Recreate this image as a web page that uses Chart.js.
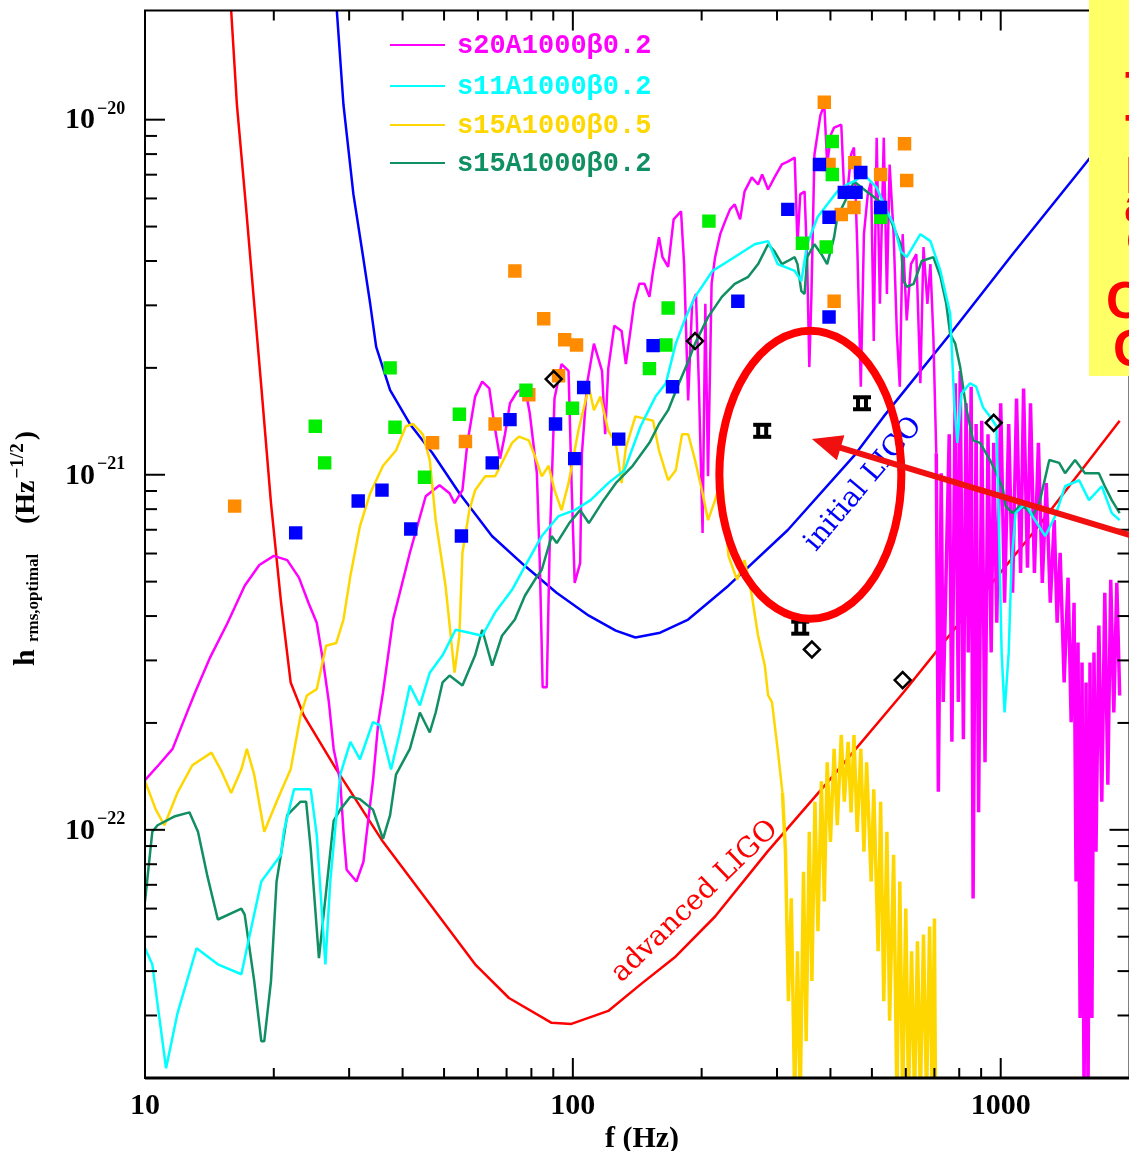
<!DOCTYPE html>
<html>
<head>
<meta charset="utf-8">
<script src="https://cdn.jsdelivr.net/npm/chart.js@4.4.1/dist/chart.umd.min.js"></script>
<style>
    html, body { margin: 0; padding: 0; background: #fff; overflow: hidden; }
    #wrap { position: relative; width: 1140px; height: 1151px; }
</style>
</head>
<body>
<div id="wrap"><canvas id="chart" width="1140" height="1151"></canvas></div>
<script>
// ---- data (f in Hz, h in Hz^-1/2) ----
const seriesLabels = ['s20A1000β0.2', 's11A1000β0.2', 's15A1000β0.5', 's15A1000β0.2'];
const curveLabels = ['initial LIGO', 'advanced LIGO'];

const xMajorTicks = [10, 100, 1000];
const xTickLabels = ['10', '100', '1000'];
const xMinorTicks = [20, 30, 40, 50, 60, 70, 80, 90, 200, 300, 400, 500, 600, 700, 800, 900];
const yMajorTicks = [1e-22, 1e-21, 1e-20];
const yTickExponents = ['−22', '−21', '−20'];
const yMinorTicks = [3e-23, 4e-23, 5e-23, 6e-23, 7e-23, 8e-23, 9e-23,
    2e-22, 3e-22, 4e-22, 5e-22, 6e-22, 7e-22, 8e-22, 9e-22,
    2e-21, 3e-21, 4e-21, 5e-21, 6e-21, 7e-21, 8e-21, 9e-21];

// advanced LIGO noise curve
const advFreq = [15.7, 15.9, 16.4, 17.2, 18.0, 18.7, 19.7, 20.8, 21.9, 23.5,
    28.0, 36.0, 45.3, 59.1, 70.9, 89.2, 99.2, 121, 144, 174,
    215, 285, 408, 593, 848, 1205, 1897];
const advH = [2.72e-20, 2.03e-20, 1.10e-20, 5.77e-21, 3.03e-21, 1.77e-21, 8.32e-22, 4.36e-22, 2.60e-22, 2.10e-22,
    1.48e-22, 9.25e-23, 6.41e-23, 4.18e-23, 3.36e-23, 2.86e-23, 2.84e-23, 3.09e-23, 3.67e-23, 4.40e-23,
    5.70e-23, 8.68e-23, 1.43e-22, 2.44e-22, 4.17e-22, 6.99e-22, 1.42e-21];

// initial LIGO noise curve
const iniFreq = [27.6, 29.1, 30.7, 32.4, 33.6, 34.7, 37.4, 41.6, 47.0, 54.3,
    64.7, 77.2, 91.6, 109, 126, 140, 160, 186, 231, 318,
    454, 533, 762, 1066, 1525, 1897];
const iniH = [2.72e-20, 1.10e-20, 6.16e-21, 4.05e-21, 3.03e-21, 2.29e-21, 1.73e-21, 1.39e-21, 1.15e-21, 8.87e-22,
    6.72e-22, 5.54e-22, 4.65e-22, 4.01e-22, 3.64e-22, 3.48e-22, 3.59e-22, 3.91e-22, 4.87e-22, 6.99e-22,
    1.13e-21, 1.46e-21, 2.49e-21, 4.18e-21, 7.15e-21, 9.94e-21];

// s20A1000b0.2 (magenta)
const s20Freq = [10.0, 10.8, 11.6, 12.4, 13.1, 14.2, 15.6, 17.1, 18.5, 20.0,
    21.5, 22.9, 24.1, 25.2, 26.1, 26.9, 27.6, 28.6, 29.1, 29.6,
    31.2, 32.4, 33.2, 34.1, 35.1, 36.0, 38.0, 41.6, 45.3, 48.8,
    51.5, 52.9, 55.2, 56.7, 59.1, 61.4, 63.8, 65.5, 67.6, 69.4,
    71.3, 74.0, 77.3, 79.3, 82.4, 83.7, 85.0, 86.9, 88.3, 90.6,
    94.1, 97.7, 99.3, 101, 104, 105, 108, 112, 117, 119,
    121, 125, 130, 133, 136, 139, 143, 147, 151, 154,
    159, 162, 167, 172, 179, 182, 186, 190, 194, 197,
    201, 204, 207, 211, 215, 221, 227, 233, 239, 246,
    252, 262, 271, 277, 286, 296, 308, 318, 330, 335,
    340, 348, 353, 357, 361, 367, 379, 387, 393, 401,
    408, 424, 431, 437, 447, 454, 462, 471, 479, 489,
    498, 505, 513, 522, 533, 542, 550, 562, 572, 581,
    590, 603, 617, 635, 649, 660, 674, 685, 696, 707,
    715, 726, 734, 758, 769, 783, 796, 804, 818, 830,
    840, 853, 862, 876, 888, 903, 919, 934, 950, 963,
    979, 1000, 1021, 1044, 1066, 1089, 1113, 1131, 1155, 1174,
    1199, 1225, 1251, 1278, 1306, 1334, 1355, 1377, 1407, 1437,
    1461, 1484, 1500, 1516, 1533, 1549, 1566, 1583, 1600, 1617,
    1634, 1652, 1670, 1696, 1723, 1751, 1780, 1808, 1838, 1868,
    1897];
const s20H = [1.38e-22, 1.53e-22, 1.69e-22, 2.07e-22, 2.44e-22, 3.06e-22, 3.83e-22, 4.87e-22, 5.57e-22, 5.91e-22,
    5.75e-22, 5.13e-22, 4.36e-22, 3.83e-22, 2.96e-22, 2.29e-22, 1.69e-22, 1.37e-22, 9.87e-23, 7.72e-23,
    7.15e-23, 8.13e-23, 1.05e-22, 1.37e-22, 2.01e-22, 2.44e-22, 3.91e-22, 6.03e-22, 8.70e-22, 9.34e-22,
    8.87e-22, 8.32e-22, 9.05e-22, 1.23e-21, 1.66e-21, 1.83e-21, 1.75e-21, 1.39e-21, 1.11e-21, 1.30e-21,
    1.59e-21, 1.71e-21, 1.77e-21, 1.49e-21, 1.01e-21, 5.64e-22, 2.52e-22, 2.52e-22, 6.42e-22, 1.64e-21,
    2.05e-21, 1.96e-21, 9.47e-22, 4.96e-22, 5.64e-22, 1.15e-21, 1.81e-21, 2.34e-21, 1.96e-21, 1.30e-21,
    1.99e-21, 2.63e-21, 2.54e-21, 2.05e-21, 2.49e-21, 3.03e-21, 3.45e-21, 3.45e-21, 3.17e-21, 3.75e-21,
    4.67e-21, 4.10e-21, 3.85e-21, 5.24e-21, 5.52e-21, 3.92e-21, 1.62e-21, 3.03e-21, 3.23e-21, 1.81e-21,
    6.86e-22, 3.03e-21, 9.90e-22, 3.45e-21, 4.10e-21, 4.76e-21, 5.18e-21, 5.59e-21, 5.77e-21, 5.24e-21,
    6.28e-21, 6.88e-21, 6.57e-21, 7.01e-21, 6.36e-21, 6.88e-21, 7.48e-21, 7.62e-21, 7.82e-21, 4.46e-21,
    6.16e-21, 6.28e-21, 3.92e-21, 2.01e-21, 3.17e-21, 7.98e-21, 1.03e-20, 1.10e-20, 7.48e-21, 9.08e-21,
    9.50e-21, 9.68e-21, 6.16e-21, 6.04e-21, 7.98e-21, 8.35e-21, 4.46e-21, 1.77e-21, 4.76e-21, 6.16e-21,
    6.70e-21, 2.38e-21, 8.90e-21, 3.03e-21, 8.90e-21, 3.23e-21, 7.48e-21, 4.76e-21, 2.49e-21, 1.77e-21,
    4.76e-21, 2.72e-21, 3.92e-21, 4.18e-21, 1.81e-21, 4.38e-21, 3.03e-21, 3.92e-21, 2.45e-21, 1.15e-21,
    1.28e-22, 1.01e-21, 2.29e-22, 1.30e-21, 1.77e-22, 1.81e-21, 2.29e-22, 1.96e-21, 1.80e-22, 1.59e-21,
    3.16e-22, 1.77e-21, 6.41e-23, 1.39e-21, 1.12e-22, 1.42e-21, 1.55e-22, 1.30e-21, 3.16e-22, 1.23e-21,
    3.83e-22, 1.59e-21, 4.36e-22, 1.39e-21, 4.65e-22, 1.64e-21, 5.29e-22, 1.75e-21, 5.47e-22, 1.59e-21,
    5.29e-22, 1.23e-21, 4.96e-22, 9.47e-22, 4.36e-22, 7.45e-22, 3.83e-22, 6.03e-22, 2.60e-22, 5.13e-22,
    2.01e-22, 4.36e-22, 7.15e-23, 3.37e-22, 2.95e-23, 2.96e-22, 1.73e-23, 2.60e-22, 1.73e-23, 2.96e-22,
    2.95e-23, 3.16e-22, 8.68e-23, 3.76e-22, 1.20e-22, 4.65e-22, 1.34e-22, 5.06e-22, 2.14e-22, 4.96e-22,
    2.39e-22];

// s11A1000b0.2 (cyan)
const s11Freq = [10.0, 10.4, 11.2, 11.9, 13.2, 14.8, 16.8, 17.3, 18.7, 20.8,
    21.1, 22.3, 24.4, 25.2, 26.4, 27.1, 28.6, 30.2, 31.8, 34.1,
    35.4, 37.6, 39.4, 41.6, 43.9, 46.3, 49.6, 53.2, 57.3, 61.4,
    65.8, 72.1, 77.3, 84.6, 92.6, 101, 110, 121, 132, 144,
    156, 165, 174, 183, 193, 212, 231, 266, 286, 301,
    313, 330, 342, 353, 373, 393, 415, 437, 454, 479,
    513, 542, 562, 584, 603, 649, 685, 723, 762, 779,
    792, 809, 848, 876, 909, 944, 977, 990, 1005, 1021,
    1044, 1060, 1083, 1143, 1186, 1271, 1341, 1414, 1525, 1608,
    1723, 1818, 1897];
const s11H = [4.64e-23, 4.18e-23, 2.13e-23, 3.03e-23, 4.64e-23, 4.18e-23, 3.92e-23, 4.64e-23, 7.15e-23, 8.51e-23,
    9.87e-23, 1.30e-22, 1.30e-22, 9.68e-23, 4.18e-23, 7.15e-23, 1.43e-22, 1.77e-22, 1.58e-22, 2.01e-22,
    1.97e-22, 1.48e-22, 1.88e-22, 2.55e-22, 2.24e-22, 2.77e-22, 3.10e-22, 3.66e-22, 3.59e-22, 3.52e-22,
    4.09e-22, 4.74e-22, 5.53e-22, 6.72e-22, 7.65e-22, 7.95e-22, 8.48e-22, 9.47e-22, 1.03e-21, 1.37e-21,
    1.66e-21, 1.81e-21, 2.34e-21, 2.75e-21, 3.17e-21, 3.75e-21, 4.00e-21, 4.46e-21, 4.55e-21, 3.92e-21,
    3.85e-21, 3.75e-21, 3.51e-21, 4.46e-21, 5.31e-21, 5.77e-21, 6.28e-21, 6.57e-21, 6.70e-21, 7.01e-21,
    6.44e-21, 5.52e-21, 5.07e-21, 4.26e-21, 4.10e-21, 4.76e-21, 4.55e-21, 3.75e-21, 2.84e-21, 1.59e-21,
    1.23e-21, 1.69e-21, 1.81e-21, 1.77e-21, 1.55e-21, 1.46e-21, 1.37e-21, 7.31e-22, 3.16e-22, 2.14e-22,
    3.16e-22, 5.64e-22, 7.80e-22, 8.32e-22, 7.65e-22, 6.72e-22, 7.65e-22, 9.28e-22, 9.65e-22, 8.48e-22,
    9.28e-22, 7.80e-22, 7.45e-22];

// s15A1000b0.5 (yellow)
const s15bFreq = [10.0, 10.6, 11.1, 11.9, 12.9, 14.3, 15.1, 15.9, 16.8, 17.3,
    18.0, 19.0, 20.3, 21.9, 23.1, 23.9, 25.2, 26.5, 28.0, 29.1,
    30.2, 31.8, 33.6, 36.0, 38.6, 40.7, 42.3, 44.6, 46.3, 47.8,
    50.4, 52.3, 52.9, 54.3, 55.2, 57.3, 59.1, 62.4, 65.8, 68.3,
    72.1, 74.8, 78.9, 81.5, 84.6, 87.8, 90.6, 94.1, 97.7, 103,
    109, 112, 116, 121, 126, 130, 133, 140, 154, 159,
    167, 174, 180, 186, 193, 201, 207, 215, 223, 231,
    242, 252, 262, 271, 281, 286, 292, 301, 309, 314,
    319, 324, 330, 335, 340, 346, 351, 357, 362, 368,
    374, 381, 387, 393, 400, 408, 415, 424, 431, 440,
    447, 454, 462, 471, 479, 486, 498, 505, 517, 524,
    533, 542, 550, 562, 572, 581, 590, 600, 609, 619,
    629, 639, 649, 660, 671, 682, 692, 700, 704];
const s15bH = [1.37e-22, 1.14e-22, 1.03e-22, 1.27e-22, 1.52e-22, 1.65e-22, 1.46e-22, 1.27e-22, 1.48e-22, 1.69e-22,
    1.43e-22, 9.87e-23, 1.20e-22, 1.48e-22, 2.10e-22, 2.39e-22, 2.49e-22, 3.30e-22, 3.36e-22, 3.91e-22,
    5.19e-22, 7.17e-22, 8.87e-22, 1.06e-21, 1.17e-21, 1.37e-21, 1.39e-21, 1.30e-21, 1.10e-21, 7.45e-22,
    4.87e-22, 3.16e-22, 2.77e-22, 3.52e-22, 6.03e-22, 7.95e-22, 9.05e-22, 9.90e-22, 9.90e-22, 1.08e-21,
    1.23e-21, 1.28e-21, 1.25e-21, 1.13e-21, 9.90e-22, 1.06e-21, 9.05e-22, 7.95e-22, 9.47e-22, 1.33e-21,
    1.77e-21, 1.52e-21, 1.66e-21, 1.33e-21, 1.23e-21, 9.47e-22, 1.19e-21, 1.46e-21, 1.42e-21, 1.17e-21,
    9.65e-22, 1.03e-21, 1.30e-21, 1.30e-21, 1.10e-21, 8.87e-22, 7.45e-22, 8.48e-22, 9.90e-22, 5.91e-22,
    5.06e-22, 5.75e-22, 4.57e-22, 3.52e-22, 2.90e-22, 2.39e-22, 2.29e-22, 1.69e-22, 1.27e-22, 8.68e-23,
    3.29e-23, 6.41e-23, 1.73e-23, 4.55e-23, 1.73e-23, 7.62e-23, 2.54e-23, 9.87e-23, 3.75e-23, 1.20e-22,
    5.18e-23, 1.37e-22, 6.28e-23, 1.55e-22, 9.25e-23, 1.69e-22, 1.03e-22, 1.85e-22, 1.20e-22, 1.77e-22,
    1.12e-22, 1.85e-22, 9.87e-23, 1.69e-22, 8.68e-23, 1.55e-22, 7.15e-23, 1.30e-22, 4.55e-23, 1.20e-22,
    3.29e-23, 9.87e-23, 2.90e-23, 8.51e-23, 1.73e-23, 7.15e-23, 1.73e-23, 6.00e-23, 1.73e-23, 4.55e-23,
    1.73e-23, 4.85e-23, 1.73e-23, 5.07e-23, 1.73e-23, 5.34e-23, 1.73e-23, 5.63e-23, 1.73e-23];

// s15A1000b0.2 (dark green)
const s15Freq = [10.0, 10.4, 10.7, 11.7, 12.7, 13.3, 14.0, 14.8, 16.8, 17.1,
    18.0, 18.7, 19.0, 19.7, 20.3, 21.5, 23.1, 23.8, 24.4, 25.5,
    26.4, 27.6, 28.6, 30.2, 31.8, 34.1, 36.0, 37.4, 38.6, 41.6,
    43.9, 46.3, 47.8, 49.6, 51.5, 55.2, 59.1, 61.4, 64.8, 68.3,
    73.2, 77.3, 81.5, 84.6, 89.2, 91.7, 98.1, 104, 109, 118,
    126, 138, 151, 159, 167, 177, 185, 193, 207, 223,
    239, 257, 271, 286, 296, 308, 318, 330, 335, 342,
    348, 353, 367, 381, 393, 408, 415, 437, 454, 486,
    533, 562, 584, 593, 603, 626, 654, 696, 723, 746,
    762, 783, 804, 830, 862, 895, 944, 977, 1011, 1027,
    1066, 1107, 1143, 1186, 1231, 1299, 1370, 1414, 1492, 1574,
    1696, 1751, 1818, 1897];
const s15H = [6.28e-23, 9.87e-23, 1.03e-22, 1.09e-22, 1.12e-22, 9.87e-23, 7.38e-23, 5.59e-23, 6.00e-23, 5.77e-23,
    3.75e-23, 2.54e-23, 2.54e-23, 3.75e-23, 7.15e-23, 1.10e-22, 1.20e-22, 1.20e-22, 8.84e-23, 4.35e-23,
    6.41e-23, 1.06e-22, 1.14e-22, 1.24e-22, 1.22e-22, 1.14e-22, 9.43e-23, 1.10e-22, 1.43e-22, 1.69e-22,
    2.14e-22, 1.88e-22, 2.14e-22, 2.60e-22, 2.72e-22, 2.55e-22, 3.10e-22, 3.66e-22, 2.90e-22, 3.52e-22,
    3.91e-22, 4.57e-22, 5.06e-22, 5.40e-22, 6.72e-22, 6.42e-22, 7.31e-22, 7.95e-22, 7.31e-22, 8.48e-22,
    9.47e-22, 1.06e-21, 1.23e-21, 1.39e-21, 1.52e-21, 1.81e-21, 2.05e-21, 2.34e-21, 2.78e-21, 3.17e-21,
    3.45e-21, 3.61e-21, 3.92e-21, 4.46e-21, 4.26e-21, 3.92e-21, 4.00e-21, 4.10e-21, 3.92e-21, 3.29e-21,
    3.23e-21, 4.10e-21, 4.46e-21, 4.18e-21, 3.92e-21, 4.67e-21, 5.31e-21, 6.04e-21, 6.70e-21, 6.28e-21,
    5.77e-21, 4.98e-21, 4.46e-21, 3.51e-21, 3.38e-21, 3.45e-21, 4.00e-21, 4.10e-21, 3.61e-21, 3.03e-21,
    2.49e-21, 2.34e-21, 2.01e-21, 1.55e-21, 1.25e-21, 1.23e-21, 1.10e-21, 1.01e-21, 9.17e-22, 8.16e-22,
    7.80e-22, 8.16e-22, 8.06e-22, 7.65e-22, 8.32e-22, 1.10e-21, 1.08e-21, 1.01e-21, 1.10e-21, 1.01e-21,
    1.01e-21, 9.28e-22, 8.48e-22, 7.80e-22];

// square markers
const blueSqFreq = [22.5, 31.5, 35.8, 41.8, 54.9, 64.8, 71.3, 91.1, 101, 106,
    128, 154, 171, 243, 318, 377, 397, 397, 431, 459, 471, 524];
const blueSqH = [6.86e-22, 8.43e-22, 9.05e-22, 7.03e-22, 6.72e-22, 1.08e-21, 1.43e-21, 1.39e-21, 1.11e-21, 1.76e-21,
    1.26e-21, 2.31e-21, 1.77e-21, 3.08e-21, 5.59e-21, 7.48e-21, 5.31e-21, 2.78e-21, 6.24e-21, 6.24e-21, 7.10e-21, 5.66e-21];
const greenSqFreq = [25.0, 26.3, 37.4, 38.4, 45.0, 54.3, 77.7, 99.8, 151, 165, 167, 208, 344, 391, 404, 404, 524];
const greenSqH = [1.37e-21, 1.08e-21, 2.00e-21, 1.36e-21, 9.84e-22, 1.48e-21, 1.73e-21, 1.54e-21, 1.99e-21, 2.32e-21,
    2.95e-21, 5.18e-21, 4.49e-21, 4.38e-21, 8.68e-21, 7.01e-21, 5.31e-21];
const orangeSqFreq = [16.2, 47.0, 56.1, 65.8, 73.2, 78.9, 85.5, 92.6, 95.7, 102,
    387, 397, 456, 424, 454, 524, 596, 603, 408];
const orangeSqH = [8.16e-22, 1.23e-21, 1.24e-21, 1.39e-21, 3.75e-21, 1.68e-21, 2.75e-21, 1.90e-21, 2.40e-21, 2.32e-21,
    1.12e-20, 7.48e-21, 7.57e-21, 5.41e-21, 5.66e-21, 7.01e-21, 8.56e-21, 6.74e-21, 3.08e-21];
const diamondFreq = [90.2, 193, 362, 590, 963];
const diamondH = [1.86e-21, 2.38e-21, 3.22e-22, 2.64e-22, 1.40e-21];
const starFreq = [277, 474, 340];
const starH = [1.33e-21, 1.59e-21, 3.71e-22];

// ---- colours ----
const colors = {
    s20: '#ff00ff',
    s11: '#00ffff',
    s15b: '#ffd700',
    s15: '#108f63',
    adv: '#ff0000',
    ini: '#0000ff',
    blueSq: '#0000ff',
    greenSq: '#00ee00',
    orangeSq: '#ff8c00'
};

const toPoints = (fs, hs) => fs.map((f, i) => ({ x: f, y: hs[i] }));

// noisy high-frequency parts are drawn a bit heavier so they read as a band
const lineSet = (label, fs, hs, color, order, denseFrom) => ({
    label,
    data: toPoints(fs, hs),
    showLine: true,
    borderColor: color,
    backgroundColor: color,
    borderWidth: 2.5,
    pointRadius: 0,
    tension: 0,
    borderJoinStyle: 'bevel',
    segment: denseFrom ? { borderWidth: (c) => (c.p0.parsed.x >= denseFrom ? 3.5 : 2.5) } : undefined,
    order
});

const squareSet = (fs, hs, color) => ({
    data: toPoints(fs, hs),
    showLine: false,
    pointStyle: 'rect',
    pointRadius: 9.5,
    pointBackgroundColor: color,
    pointBorderWidth: 0,
    order: 1
});

const makeStarMarker = () => {
    const c = document.createElement('canvas');
    c.width = 20;
    c.height = 18;
    const g = c.getContext('2d');
    g.fillStyle = '#000';
    g.fillRect(1, 1, 18, 4);
    g.fillRect(1, 13, 18, 4);
    g.fillRect(4, 1, 4, 16);
    g.fillRect(12, 1, 4, 16);
    return c;
};

const datasets = [
    lineSet(seriesLabels[0], s20Freq, s20H, colors.s20, 6, 700),
    lineSet(seriesLabels[1], s11Freq, s11H, colors.s11, 3),
    lineSet(seriesLabels[2], s15bFreq, s15bH, colors.s15b, 5, 305),
    lineSet(seriesLabels[3], s15Freq, s15H, colors.s15, 4),
    lineSet(curveLabels[1], advFreq, advH, colors.adv, 8),
    lineSet(curveLabels[0], iniFreq, iniH, colors.ini, 7),
    squareSet(blueSqFreq, blueSqH, colors.blueSq),
    squareSet(greenSqFreq, greenSqH, colors.greenSq),
    squareSet(orangeSqFreq, orangeSqH, colors.orangeSq),
    {
        data: toPoints(diamondFreq, diamondH),
        showLine: false,
        pointStyle: 'rectRot',
        pointRadius: 8,
        pointBorderColor: '#000',
        pointBackgroundColor: 'rgba(0,0,0,0)',
        pointBorderWidth: 2.5,
        order: 0
    },
    {
        data: toPoints(starFreq, starH),
        showLine: false,
        pointStyle: makeStarMarker(),
        pointRadius: 8,
        order: 0
    }
];

// annotation anchors in data coordinates
const labelAnchors = {
    ini: { f: 478, h: 9.4e-22, angle: -49.8, size: 28 },
    adv: { f: 193, h: 6.28e-23, angle: -44, size: 28 }
};
const ellipseAnchor = { f: 359, h: 1.0e-21, rx: 91, ry: 144 };
const arrowTip = { f: 362, h: 1.26e-21 };
const noteFragments = [['T', 1125, 108], ['T', 1125, 151], ['E', 1125, 193], ['a', 1124, 222], ['o', 1126, 254],
    ['C', 1106, 318], ['C', 1113, 366]];

const serif = '"Liberation Serif", "DejaVu Serif", serif';

const axesPlugin = {
    id: 'axesDecor',
    afterDatasetsDraw(chart) {
        const { ctx, chartArea: a, scales: { x, y } } = chart;
        ctx.save();

        // rotated curve labels
        [['ini', curveLabels[0], colors.ini], ['adv', curveLabels[1], colors.adv]].forEach(([key, text, color]) => {
            const an = labelAnchors[key];
            ctx.save();
            ctx.translate(x.getPixelForValue(an.f), y.getPixelForValue(an.h));
            ctx.rotate(an.angle * Math.PI / 180);
            ctx.font = `${an.size}px "DejaVu Serif", serif`;
            ctx.fillStyle = color;
            ctx.textAlign = 'center';
            ctx.textBaseline = 'middle';
            ctx.fillText(text, 0, 0);
            ctx.restore();
        });

        // frame
        ctx.strokeStyle = '#000';
        ctx.lineWidth = 2;
        ctx.strokeRect(a.left, a.top, a.right - a.left, a.bottom - a.top);
        ctx.lineWidth = 3;
        ctx.beginPath();
        ctx.moveTo(a.left, a.bottom);
        ctx.lineTo(a.right, a.bottom);
        ctx.stroke();

        // inward ticks
        ctx.lineWidth = 2;
        const tick = (px, py, dx, dy) => {
            ctx.beginPath();
            ctx.moveTo(px, py);
            ctx.lineTo(px + dx, py + dy);
            ctx.stroke();
        };
        xMajorTicks.forEach((v) => {
            const p = x.getPixelForValue(v);
            tick(p, a.bottom, 0, -20);
            tick(p, a.top, 0, 20);
        });
        xMinorTicks.forEach((v) => {
            const p = x.getPixelForValue(v);
            tick(p, a.bottom, 0, -10);
            tick(p, a.top, 0, 10);
        });
        yMajorTicks.forEach((v) => {
            const p = y.getPixelForValue(v);
            tick(a.left, p, 20, 0);
            tick(a.right, p, -20, 0);
        });
        yMinorTicks.forEach((v) => {
            const p = y.getPixelForValue(v);
            tick(a.left, p, 12, 0);
            tick(a.right, p, -12, 0);
        });

        // tick labels
        ctx.fillStyle = '#000';
        ctx.font = `bold 30px ${serif}`;
        ctx.textAlign = 'center';
        ctx.textBaseline = 'alphabetic';
        xMajorTicks.forEach((v, i) => {
            ctx.fillText(xTickLabels[i], x.getPixelForValue(v), 1114);
        });
        yMajorTicks.forEach((v, i) => {
            const p = y.getPixelForValue(v);
            ctx.font = `bold 30px ${serif}`;
            ctx.textAlign = 'right';
            ctx.textBaseline = 'middle';
            ctx.fillText('10', 95, p + 1);
            ctx.font = `bold 18px ${serif}`;
            ctx.textAlign = 'left';
            ctx.fillText(yTickExponents[i], 97, p - 10);
        });

        // axis titles
        ctx.font = `bold 30px ${serif}`;
        ctx.textAlign = 'center';
        ctx.textBaseline = 'alphabetic';
        ctx.fillText('f (Hz)', 642, 1147);

        ctx.save();
        ctx.translate(34, 666);
        ctx.rotate(-Math.PI / 2);
        ctx.textAlign = 'left';
        ctx.font = `bold 30px ${serif}`;
        ctx.fillText('h', 0, 0);
        ctx.font = `bold 17px ${serif}`;
        ctx.fillText('rms,optimal', 24, 4);
        ctx.font = `bold 28px ${serif}`;
        ctx.fillText('(Hz', 142, 0);
        const w1 = ctx.measureText('(Hz').width;
        ctx.font = `bold 19px ${serif}`;
        ctx.fillText('−1/2', 142 + w1 + 2, -11);
        const w2 = ctx.measureText('−1/2').width;
        ctx.font = `bold 28px ${serif}`;
        ctx.fillText(')', 142 + w1 + w2 + 5, 0);
        ctx.restore();

        // legend
        const legendRows = [45, 86, 125, 163];
        const legendColors = [colors.s20, colors.s11, colors.s15b, colors.s15];
        ctx.font = 'bold 27px "Liberation Mono", "DejaVu Sans Mono", monospace';
        ctx.textAlign = 'left';
        ctx.textBaseline = 'middle';
        seriesLabels.forEach((label, i) => {
            ctx.strokeStyle = legendColors[i];
            ctx.lineWidth = 2;
            ctx.beginPath();
            ctx.moveTo(390, legendRows[i]);
            ctx.lineTo(445, legendRows[i]);
            ctx.stroke();
            ctx.fillStyle = legendColors[i];
            ctx.fillText(label, 457, legendRows[i] + 1);
        });

        ctx.restore();
    },
    afterDraw(chart) {
        const { ctx, scales: { x, y } } = chart;
        ctx.save();
        // red ellipse
        ctx.strokeStyle = '#ff0000';
        ctx.lineWidth = 8;
        ctx.beginPath();
        ctx.ellipse(x.getPixelForValue(ellipseAnchor.f), y.getPixelForValue(ellipseAnchor.h),
            ellipseAnchor.rx, ellipseAnchor.ry, 0, 0, Math.PI * 2);
        ctx.stroke();

        // arrow pointing into the ellipse
        const tx = x.getPixelForValue(arrowTip.f);
        const ty = y.getPixelForValue(arrowTip.h);
        const sx = 1140;
        const sy = ty + 99;
        const len = Math.hypot(sx - tx, sy - ty);
        const ux = (sx - tx) / len;
        const uy = (sy - ty) / len;
        ctx.strokeStyle = '#f01010';
        ctx.fillStyle = '#f01010';
        ctx.lineWidth = 6;
        ctx.beginPath();
        ctx.moveTo(sx, sy);
        ctx.lineTo(tx + ux * 20, ty + uy * 20);
        ctx.stroke();
        ctx.beginPath();
        ctx.moveTo(tx, ty);
        ctx.lineTo(tx + ux * 30 - uy * 13, ty + uy * 30 + ux * 13);
        ctx.lineTo(tx + ux * 30 + uy * 13, ty + uy * 30 - ux * 13);
        ctx.closePath();
        ctx.fill();

        // yellow note box (cut off at the right edge)
        ctx.fillStyle = '#ffff66';
        ctx.fillRect(1089, 0, 60, 376);
        ctx.fillStyle = '#ff0000';
        ctx.font = 'bold 52px "Liberation Sans", sans-serif';
        ctx.textAlign = 'left';
        ctx.textBaseline = 'alphabetic';
        noteFragments.forEach(([t, px, py]) => ctx.fillText(t, px, py));
        ctx.restore();
    }
};

new Chart(document.getElementById('chart'), {
    type: 'scatter',
    data: { datasets },
    options: {
        responsive: false,
        animation: false,
        events: [],
        layout: { padding: { left: 145, right: 2, top: 5, bottom: 73 } },
        plugins: { legend: { display: false }, tooltip: { enabled: false } },
        scales: {
            x: { type: 'logarithmic', min: 10, max: 2000, display: false },
            y: { type: 'logarithmic', min: 2e-23, max: 2.03e-20, display: false }
        }
    },
    plugins: [axesPlugin]
});
</script>
</body>
</html>
